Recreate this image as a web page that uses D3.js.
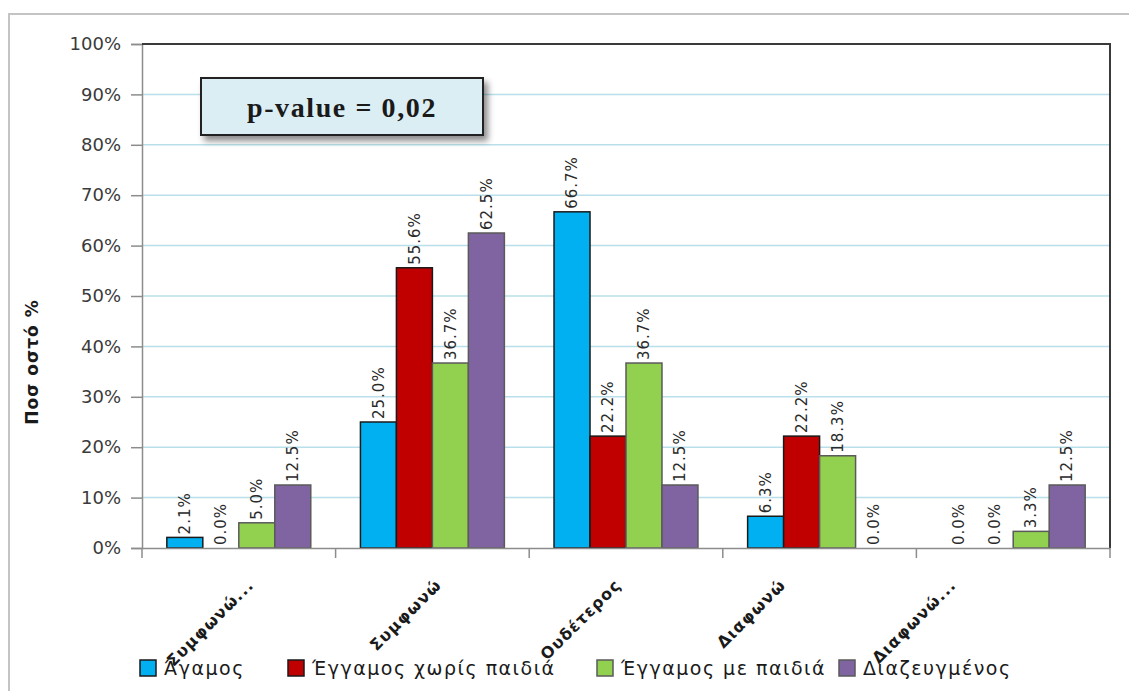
<!DOCTYPE html>
<html>
<head>
<meta charset="utf-8">
<script src="https://cdn.jsdelivr.net/npm/d3@7"></script>
<style>
  html, body { margin: 0; padding: 0; background: #fff; }
  svg { display: block; }
</style>
</head>
<body>
<svg id="chart" width="1129" height="691"></svg>
<script>
// Survey answers by marital status (percent of each group)
const categories = ["Συμφωνώ...", "Συμφωνώ", "Ουδέτερος", "Διαφωνώ", "Διαφωνώ..."];
const seriesNames = ["Άγαμος", "Έγγαμος χωρίς παιδιά", "Έγγαμος με παιδιά", "Διαζευγμένος"];
const agamos       = [2.1, 25.0, 66.7, 6.3, 0.0];
const eggamosXoris = [0.0, 55.6, 22.2, 22.2, 0.0];
const eggamosMe    = [5.0, 36.7, 36.7, 18.3, 3.3];
const diazeugmenos = [12.5, 62.5, 12.5, 0.0, 12.5];
const yTicks = [0, 10, 20, 30, 40, 50, 60, 70, 80, 90, 100];
const pValueText = "p-value = 0,02";
const yTitle = "Ποσ οστό  %";

const seriesValues = [agamos, eggamosXoris, eggamosMe, diazeugmenos];
const fills   = ["#00b0f0", "#c00000", "#92d050", "#8064a2"];
const strokes = ["#1a1a1a", "#1a1a1a", "#5a5a5a", "#5a5a5a"];

const svg = d3.select("#chart");
const plot = { left: 142, right: 1110, top: 44, bottom: 548 };

// outer frame
svg.append("path")
  .attr("d", `M9,691 V14 H1129`)
  .attr("fill", "none").attr("stroke", "#c4c4c4").attr("stroke-width", 2);

const y = d3.scaleLinear().domain([0, 100]).range([plot.bottom, plot.top]);
const x0 = d3.scaleBand().domain(categories).range([plot.left, plot.right]).padding(0);
const x1 = d3.scaleBand().domain(seriesNames).range([0, x0.bandwidth()])
  .paddingInner(0).paddingOuter(0.69);

// horizontal gridlines
svg.append("g").selectAll("line")
  .data(yTicks.filter(t => t > 0 && t < 100))
  .join("line")
  .attr("x1", plot.left).attr("x2", plot.right)
  .attr("y1", d => y(d)).attr("y2", d => y(d))
  .attr("stroke", "#b9e0ea").attr("stroke-width", 1.5);

// y axis
const yAxis = d3.axisLeft(y).tickValues(yTicks).tickFormat(d => d + "%").tickSize(11).tickPadding(10);
const gy = svg.append("g").attr("transform", `translate(${plot.left},0)`).call(yAxis);
gy.select(".domain").attr("stroke", "#8c8c8c").attr("stroke-width", 1.5);
gy.selectAll(".tick line").attr("stroke", "#8c8c8c").attr("stroke-width", 1.5);
gy.selectAll(".tick text")
  .attr("font-family", "DejaVu Sans, sans-serif").attr("font-size", 18)
  .attr("fill", "#3a3a3a");

// plot frame top/right
svg.append("path")
  .attr("d", `M${plot.left},${plot.top} H${plot.right} V${plot.bottom}`)
  .attr("fill", "none").attr("stroke", "#3a3a3a").attr("stroke-width", 2);

// bars and value labels
const groups = svg.append("g").selectAll("g")
  .data(categories)
  .join("g")
  .attr("transform", d => `translate(${x0(d)},0)`);

groups.each(function (cat, ci) {
  const g = d3.select(this);
  seriesNames.forEach((s, si) => {
    const v = seriesValues[si][ci];
    if (v > 0) {
      g.append("rect")
        .attr("x", x1(s)).attr("width", x1.bandwidth())
        .attr("y", y(v)).attr("height", y(0) - y(v))
        .attr("fill", fills[si]).attr("stroke", strokes[si]).attr("stroke-width", 1.5);
    }
    const cx = x1(s) + x1.bandwidth() / 2;
    const ty = y(v) - 3;
    g.append("text")
      .attr("transform", `translate(${cx},${ty}) rotate(-90)`)
      .attr("dy", "0.35em")
      .attr("font-family", "DejaVu Sans, sans-serif").attr("font-size", 15)
      .attr("letter-spacing", 1)
      .attr("fill", "#2a2a2a")
      .text(v.toFixed(1) + "%");
  });
});

// x axis
const xAxis = d3.axisBottom(x0).tickSize(0).tickFormat("");
const gx = svg.append("g").attr("transform", `translate(0,${plot.bottom})`).call(xAxis);
gx.select(".domain").attr("stroke", "#8c8c8c").attr("stroke-width", 1.5);
// category separators
svg.append("g").selectAll("line")
  .data(d3.range(categories.length + 1))
  .join("line")
  .attr("x1", i => plot.left + i * x0.step()).attr("x2", i => plot.left + i * x0.step())
  .attr("y1", plot.bottom).attr("y2", plot.bottom + 10)
  .attr("stroke", "#8c8c8c").attr("stroke-width", 1.5);

// legend
const legendX = [140, 288, 597, 839];
const legend = svg.append("g").selectAll("g")
  .data(seriesNames)
  .join("g")
  .attr("transform", (d, i) => `translate(${legendX[i]},660)`);
legend.append("rect")
  .attr("width", 16).attr("height", 16)
  .attr("fill", (d, i) => fills[i]).attr("stroke", (d, i) => strokes[i]).attr("stroke-width", 1.5);
legend.append("text")
  .attr("x", 24).attr("y", 15)
  .attr("font-family", "DejaVu Sans, sans-serif").attr("font-size", 19)
  .attr("letter-spacing", 1.5)
  .attr("fill", "#1a1a1a")
  .text(d => d);

// category labels (drawn over the legend); slanted labels drift left across the axis
const labelShift = [16, 10, -4, -33, -56];
svg.append("g").selectAll("text")
  .data(categories)
  .join("text")
  .attr("transform", (d, i) => `translate(${x0(d) + x0.bandwidth() / 2 + labelShift[i]},${plot.bottom + 38}) rotate(-45)`)
  .attr("text-anchor", "end")
  .attr("font-family", "DejaVu Sans, sans-serif").attr("font-size", 16)
  .attr("font-weight", "bold").attr("letter-spacing", 1.2)
  .attr("fill", "#1a1a1a")
  .text(d => d);

// y axis title
svg.append("text")
  .attr("transform", `translate(38,362) rotate(-90)`)
  .attr("text-anchor", "middle")
  .attr("font-family", "DejaVu Sans, sans-serif").attr("font-size", 17)
  .attr("font-weight", "bold").attr("letter-spacing", 1)
  .attr("fill", "#1a1a1a")
  .text(yTitle);

// p-value box with drop shadow
const defs = svg.append("defs");
const f = defs.append("filter").attr("id", "shadow").attr("x", "-10%").attr("y", "-20%").attr("width", "130%").attr("height", "160%");
f.append("feDropShadow").attr("dx", 4).attr("dy", 5).attr("stdDeviation", 3).attr("flood-color", "#000").attr("flood-opacity", 0.45);
svg.append("rect")
  .attr("x", 201).attr("y", 78).attr("width", 282).attr("height", 57)
  .attr("fill", "#dbeef4").attr("stroke", "#222").attr("stroke-width", 2)
  .attr("filter", "url(#shadow)");
svg.append("text")
  .attr("x", 342).attr("y", 107).attr("dy", "0.35em")
  .attr("text-anchor", "middle")
  .attr("font-family", "Liberation Serif, Times New Roman, serif").attr("font-size", 28)
  .attr("font-weight", "bold").attr("letter-spacing", 1.6).attr("fill", "#1a1a1a")
  .text(pValueText);
</script>
</body>
</html>
